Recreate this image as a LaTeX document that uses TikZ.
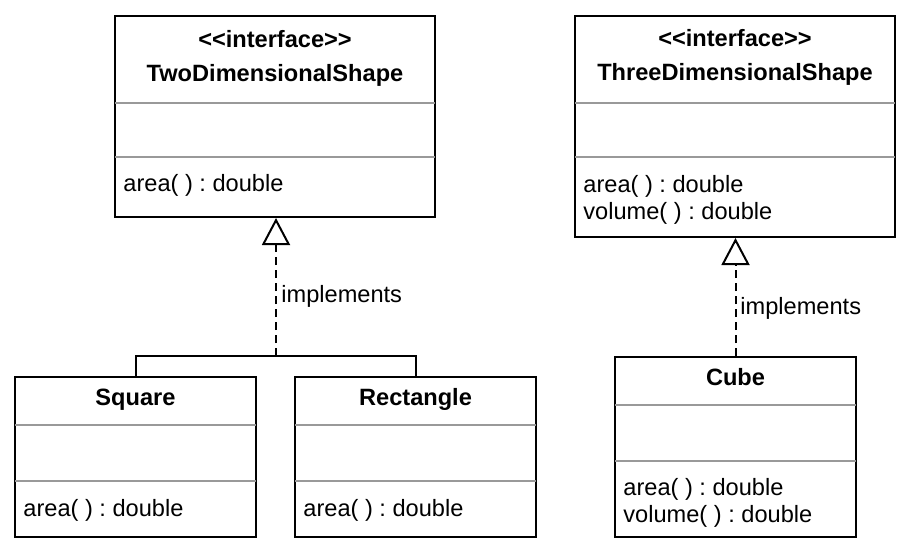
\documentclass[tikz,border=0pt]{standalone}
\usepackage{fontspec}
\setmainfont{Liberation Sans}
\usetikzlibrary{arrows.meta}
\definecolor{sepgray}{RGB}{153,153,153}
\newcommand{\umlsize}{\fontsize{11.8}{14}\selectfont\frenchspacing}
\tikzset{
  classbox/.style={draw, line width=1pt, inner sep=0pt},
  divider/.style={draw=sepgray, line width=1pt},
  classname/.style={font=\umlsize\bfseries, inner sep=0pt, text height=0.8em, text depth=0.1em},
  member/.style={anchor=west, inner sep=0pt, text height=0.8em, text depth=0.1em},
  assoc/.style={line width=1pt},
  realizes/.style={line width=1pt, dash pattern=on 4pt off 2.5pt,
    -{Triangle[open, length=13.5pt, width=14pt]}},
}
\begin{document}
\begin{tikzpicture}[x=0.5pt, y=-0.5pt, font=\umlsize]
    \useasboundingbox (0,0) rectangle (908,548);
    % interfaces
    \node[classbox, minimum width=160pt, minimum height=100.5pt] (twod) at (275,116.5) {};
    \node[classname] (twodst) at (275,40) {<\kern0pt<interface>\kern0pt>};
    \node[classname] (twodname) at (275,74) {TwoDimensionalShape};
    \draw[divider] (115,103) -- (435,103);
    \draw[divider] (115,157) -- (435,157);
    \node[member] (twodarea) at (123,184) {area( ) : double};

    \node[classbox, minimum width=160pt, minimum height=110.5pt] (threed) at (735,126.5) {};
    \node[classname] (threedst) at (735,39) {<\kern0pt<interface>\kern0pt>};
    \node[classname] (threedname) at (735,73) {ThreeDimensionalShape};
    \draw[divider] (575,103) -- (895,103);
    \draw[divider] (575,157) -- (895,157);
    \node[member] (threedarea) at (583,185) {area( ) : double};
    \node[member] (threedvol) at (583,212) {volume( ) : double};

    % classes
    \node[classbox, minimum width=120.5pt, minimum height=80pt] (sq) at (135.5,457) {};
    \node[classname] (sqname) at (135.5,398) {Square};
    \draw[divider] (15,425) -- (256,425);
    \draw[divider] (15,481) -- (256,481);
    \node[member] (sqarea) at (23,509) {area( ) : double};

    \node[classbox, minimum width=120.5pt, minimum height=80pt] (rect) at (415.5,457) {};
    \node[classname] (rectname) at (415.5,398) {Rectangle};
    \draw[divider] (295,425) -- (536,425);
    \draw[divider] (295,481) -- (536,481);
    \node[member] (rectarea) at (303,509) {area( ) : double};

    \node[classbox, minimum width=120.5pt, minimum height=90pt] (cube) at (735.5,447) {};
    \node[classname] (cubename) at (735.5,378) {Cube};
    \draw[divider] (615,405) -- (856,405);
    \draw[divider] (615,461) -- (856,461);
    \node[member] (cubearea) at (623,488) {area( ) : double};
    \node[member] (cubevol) at (623,515) {volume( ) : double};

    % realizations
    \coordinate (fork) at (276,356);
    \draw[assoc] (sq.north) |- (fork) -| (rect.north);
    \draw[realizes] (fork) -- (fork |- twod.south);
    \node[member] (impl2d) at (281,295) {implements};
    \draw[realizes] (cube.north) -- (cube.north |- threed.south);
    \node[member] (impl3d) at (740,307) {implements};
\end{tikzpicture}
\end{document}
